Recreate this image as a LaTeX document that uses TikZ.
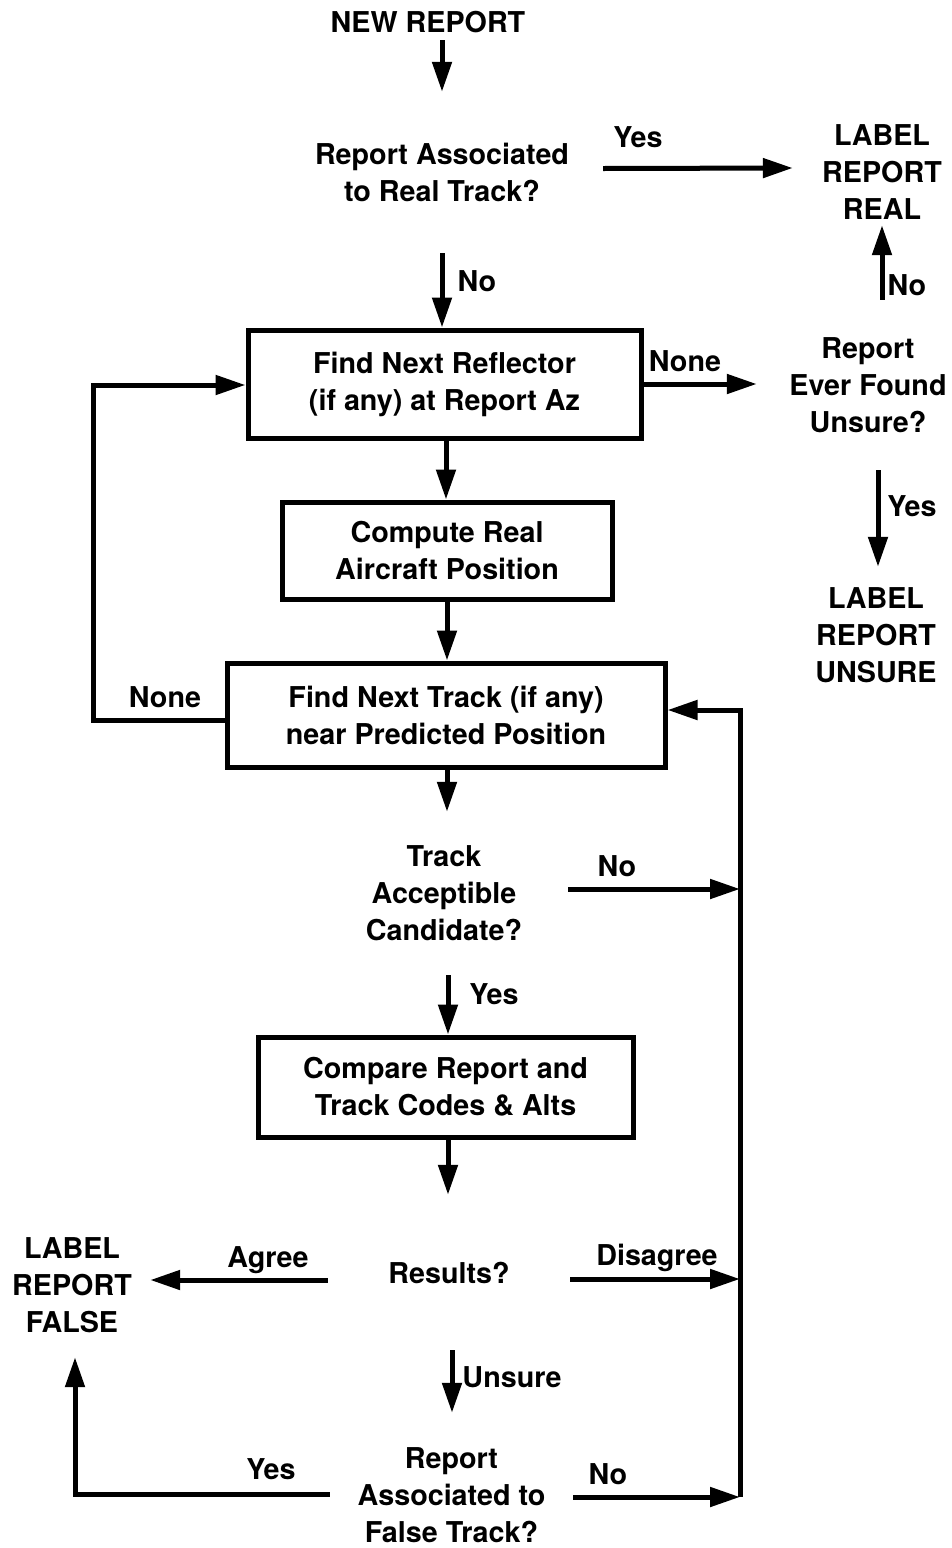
\documentclass[tikz,border=0pt]{standalone}
\usepackage{fontspec}
\setmainfont{TeX Gyre Heros}
\usetikzlibrary{arrows.meta}
\begin{document}
\begin{tikzpicture}[x=1pt,y=-1pt,
  every node/.style={font=\bfseries\fontsize{28.7}{37}\selectfont, align=center, inner sep=0pt},
  stepbox/.style={draw, line width=5pt, rectangle},
  zone/.style={rectangle},
  lbl/.style={text height=20pt, text depth=0pt},
  wire/.style={line width=5pt},
  arr/.style={wire, -{Triangle[length=30pt,width=19pt]}}]
\useasboundingbox (0,0) rectangle (951,1548);
\fill[white] (0,0) rectangle (951,1548);

% process boxes
\node[stepbox, minimum width=393pt, minimum height=108pt] (b1) at (444.5,384) {Find Next Reflector\\(if any) at Report Az};
\node[stepbox, minimum width=330pt, minimum height=97pt] (b2) at (447,550.5) {Compute Real\\Aircraft Position};
\node[stepbox, minimum width=438pt, minimum height=104pt] (b3) at (446,715) {Find Next Track (if any)\\near Predicted Position};
\node[stepbox, minimum width=375pt, minimum height=100pt] (b4) at (445.5,1087) {Compare Report and\\Track Codes \& Alts};

% decisions and outcomes (invisible frames set where the arrows attach)
\node[zone, minimum width=200pt, minimum height=36pt] (new) at (428,22) {NEW REPORT};
\node[zone, minimum width=322pt, minimum height=161pt] (q1) at (442,172.5) {Report Associated\\to Real Track?};
\node[zone, minimum width=178pt, minimum height=106pt] (real) at (882,172) {LABEL\\REPORT\\REAL};
\node[zone, minimum width=222pt, minimum height=170pt] (q2) at (868,385) {Report\\Ever Found\\Unsure?};
\node[zone, minimum width=150pt, minimum height=136pt] (unsure) at (876,635) {LABEL\\REPORT\\UNSURE};
\node[zone, minimum width=248pt, minimum height=163pt] (q3) at (444,893.5) {Track\\Acceptible\\Candidate?};
\node[zone, minimum width=242pt, minimum height=155pt] (res) at (449,1272.5) {Results?};
\node[zone, minimum width=156pt, minimum height=144pt] (false) at (72,1285) {LABEL\\REPORT\\FALSE};
\node[zone, minimum width=243pt, minimum height=164pt] (q4) at (451.5,1495) {Report\\Associated to\\False Track?};

% return rail on the right and loop on the left
\coordinate (railtop) at (740,710);
\coordinate (railbot) at (740,1497);
\coordinate (lft) at (93,385);

% connectors
\draw[arr] (new.south -| q1.north) -- (q1.north);
\draw[arr] ([yshift=4pt]q1.east) -- ([yshift=4pt]real.west);
\draw[arr] (q1.south) -- (q1.south |- b1.north);
\draw[arr] (b1.east) -- (b1.east -| q2.west);
\draw[arr] ([xshift=14pt]q2.north) -- ([xshift=14pt]q2.north |- real.south);
\draw[arr] ([xshift=10pt]q2.south) -- ([xshift=10pt]q2.south |- unsure.north);
\draw[arr] ([xshift=1.5pt]b1.south) -- ([xshift=1.5pt]b1.south |- b2.north);
\draw[arr] (b2.south) -- (b2.south |- b3.north);
\draw[arr] ([yshift=-5pt]b3.west) -| (lft) -- (lft -| b1.west);
\draw[arr] ([xshift=1pt]b3.south) -- ([xshift=1pt]b3.south |- q3.north);
\draw[arr] ([yshift=4.5pt]q3.east) -- ([yshift=4.5pt]q3.east -| railtop);
\draw[arr] ([xshift=4pt]q3.south) -- ([xshift=4pt]q3.south |- b4.north);
\draw[arr] ([xshift=2.5pt]b4.south) -- ([xshift=2.5pt]b4.south |- res.north);
\draw[arr] ([yshift=-7.5pt]res.west) -- ([yshift=-7.5pt]res.west -| false.east);
\draw[arr] ([yshift=-6.5pt]res.east) -- ([yshift=-6.5pt]res.east -| railtop);
\draw[arr] ([xshift=3pt]res.south) -- ([xshift=3pt]res.south |- q4.north);
\draw[arr] ([yshift=1pt]q4.west) -| ([xshift=3pt]false.south);
\draw[arr] ([yshift=-2pt]q4.east) -- (railbot);
\draw[arr] (railbot) -- (railtop) -- (railtop -| b3.east);

% branch labels
\node[lbl] (lyes1) at (638,137) {Yes};
\node[lbl] (lno1) at (477,281) {No};
\node[lbl] (lnone1) at (685,361) {None};
\node[lbl] (lno2) at (907,285) {No};
\node[lbl] (lyes2) at (912,506) {Yes};
\node[lbl] (lnone2) at (165,697) {None};
\node[lbl] (lno3) at (617,866) {No};
\node[lbl] (lyes3) at (494,994) {Yes};
\node[lbl] (lagree) at (268,1257) {Agree};
\node[lbl] (ldis) at (657,1255) {Disagree};
\node[lbl] (luns) at (512,1377) {Unsure};
\node[lbl] (lyes4) at (271,1469) {Yes};
\node[lbl] (lno4) at (608,1474) {No};
\end{tikzpicture}
\end{document}
